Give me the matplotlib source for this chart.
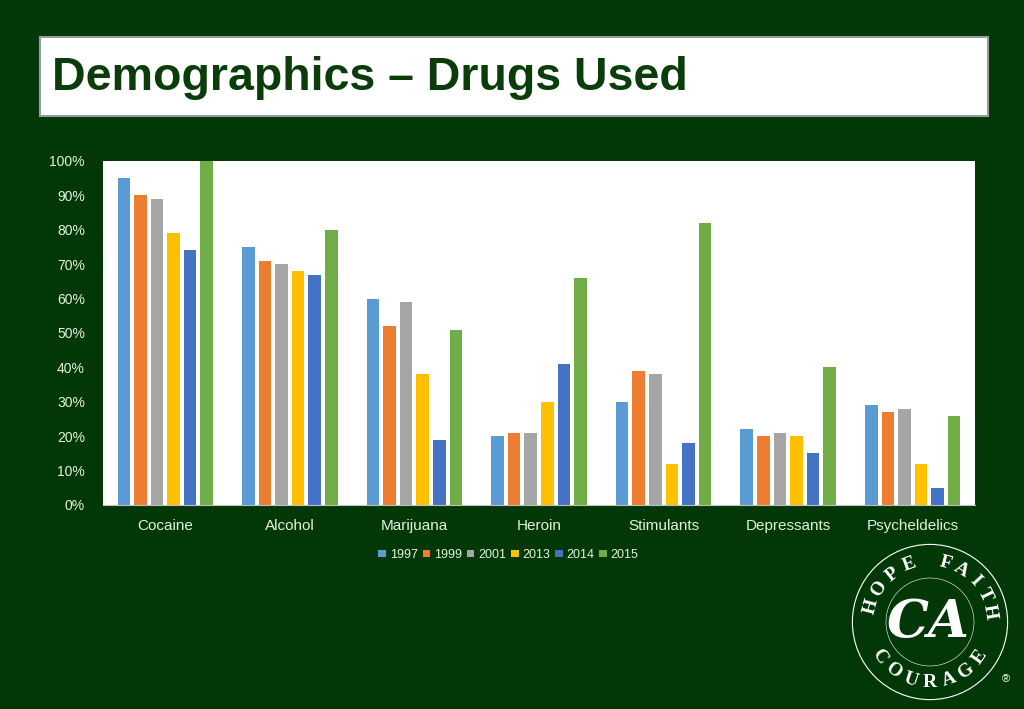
import numpy as np
import matplotlib.pyplot as plt
from matplotlib.patches import Rectangle, Circle

plt.rcParams["font.family"] = "Liberation Sans"

categories = ["Cocaine", "Alcohol", "Marijuana", "Heroin", "Stimulants", "Depressants", "Psycheldelics"]
years = ["1997", "1999", "2001", "2013", "2014", "2015"]
v1997 = [95, 75, 60, 20, 30, 22, 29]
v1999 = [90, 71, 52, 21, 39, 20, 27]
v2001 = [89, 70, 59, 21, 38, 21, 28]
v2013 = [79, 68, 38, 30, 12, 20, 12]
v2014 = [74, 67, 19, 41, 18, 15, 5]
v2015 = [100, 80, 51, 66, 82, 40, 26]
series = [v1997, v1999, v2001, v2013, v2014, v2015]
colors = ["#5b9bd5", "#ed7d31", "#a5a5a5", "#ffc000", "#4472c4", "#70ad47"]

BG = "#023808"
LIGHT = "#e4f2dc"

fig = plt.figure(figsize=(10.24, 7.09), dpi=100, facecolor=BG)

# title box
fig.patches.append(Rectangle((40 / 1024, 1 - 116 / 709), 948 / 1024, 79 / 709,
                             transform=fig.transFigure, facecolor="white",
                             edgecolor="#9a9a9a", lw=1.5))
fig.text(52 / 1024, 1 - 78 / 709, "Demographics \u2013 Drugs Used", fontsize=33.5,
         fontweight="bold", color="#0b3d0b", va="center")

ax = fig.add_axes([103 / 1024, 1 - 505 / 709, 872 / 1024, 344 / 709])
ax.set_facecolor("white")
x = np.arange(len(categories))
step = 0.133
width = 0.1
for i, (vals, yr) in enumerate(zip(series, years)):
    ax.bar(x + (i - 2.5) * step, vals, width, color=colors[i], label=yr)

ax.set_xlim(-0.5, len(categories) - 0.5)
ax.set_ylim(0, 100)
ax.set_yticks(range(0, 101, 10))
ax.set_yticklabels([f"{t}%" for t in range(0, 101, 10)])
ax.set_xticks(x)
ax.set_xticklabels(categories)
ax.tick_params(axis="both", length=0, colors=LIGHT, labelsize=11)
ax.tick_params(axis="x", pad=10)
ax.tick_params(axis="y", labelsize=10, pad=13)
for s in ["top", "right", "left"]:
    ax.spines[s].set_visible(False)
ax.spines["bottom"].set_color("#bfbfbf")

leg = ax.legend(loc="upper center", bbox_to_anchor=(0.465, -0.095), ncol=6, frameon=False,
                fontsize=9, handlelength=0.6, handleheight=0.6, handletextpad=0.3,
                columnspacing=0.4)
for t in leg.get_texts():
    t.set_color(LIGHT)

# logo
lax = fig.add_axes([850 / 1024, 1 - 702 / 709, 160 / 1024, 160 / 709])
lax.set_xlim(-1, 1)
lax.set_ylim(-1, 1)
lax.set_aspect("equal")
lax.axis("off")
lax.add_patch(Circle((0, 0), 0.97, fill=False, ec="white", lw=0.8))
lax.add_patch(Circle((0, 0), 0.55, fill=False, ec="white", lw=0.4))
lax.text(-0.02, 0.0, "CA", color="white", fontsize=38, fontstyle="italic",
         fontweight="bold", family="DejaVu Serif", ha="center", va="center")


def arc_text(word, a0, a1, r, upper=True):
    angs = np.linspace(a0, a1, len(word))
    for ch, a in zip(word, angs):
        rad = np.deg2rad(a)
        rot = a - 90 if upper else a + 90
        lax.text(r * np.cos(rad), r * np.sin(rad), ch, color="white", fontsize=14,
                 fontweight="bold", family="Liberation Serif", ha="center",
                 va="center", rotation=rot)


arc_text("HOPE", 165, 110, 0.76)
arc_text("FAITH", 75, 10, 0.76)
arc_text("COURAGE", 215, 325, 0.76, upper=False)
lax.text(0.95, -0.72, "\u00ae", color="white", fontsize=8, ha="center", va="center")

fig.savefig("out.png", dpi=100, facecolor=BG)
